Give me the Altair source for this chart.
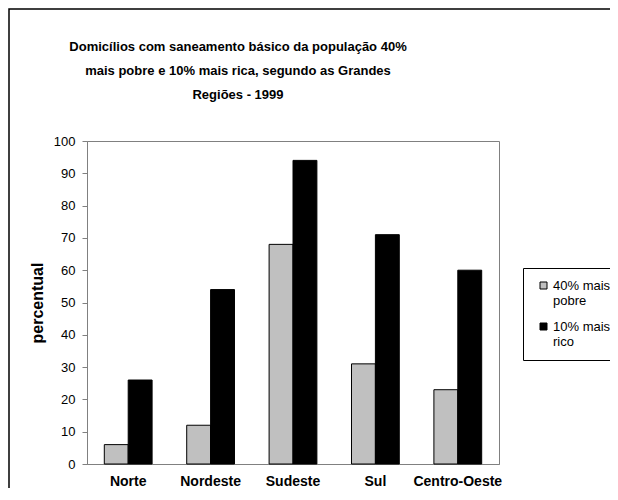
import altair as alt
import pandas as pd

regions = ["Norte", "Nordeste", "Sudeste", "Sul", "Centro-Oeste"]
series = ["40% mais pobre", "10% mais rico"]
pobre = [6, 12, 68, 31, 23]
rico = [26, 54, 94, 71, 60]
title_lines = [
    "Domicílios com saneamento básico da população 40%",
    "mais pobre e 10% mais rica, segundo as Grandes",
    "Regiões - 1999",
]
y_ticks = list(range(0, 101, 10))

rows = []
for r, p, q in zip(regions, pobre, rico):
    rows.append({"regiao": r, "grupo": series[0], "valor": p})
    rows.append({"regiao": r, "grupo": series[1], "valor": q})
df = pd.DataFrame(rows)

W, H = 412, 323
FONT = "Liberation Sans, Arial, sans-serif"

bars = alt.Chart(df).mark_bar(stroke="black", strokeWidth=1).encode(
    x=alt.X(
        "regiao:N",
        sort=regions,
        scale=alt.Scale(paddingInner=0.42, paddingOuter=0.21),
        axis=alt.Axis(
            title=None,
            labelAngle=0,
            ticks=False,
            labelFont=FONT,
            labelFontSize=14,
            labelFontWeight="bold",
            labelColor="black",
            labelPadding=10,
            domainColor="#808080",
        ),
    ),
    xOffset=alt.XOffset("grupo:N", sort=series),
    y=alt.Y(
        "valor:Q",
        scale=alt.Scale(domain=[0, 100], nice=False),
        axis=alt.Axis(
            title="percentual",
            values=y_ticks,
            grid=False,
            tickSize=5,
            tickColor="#808080",
            domainColor="#808080",
            labelFont=FONT,
            labelFontSize=13,
            labelColor="black",
            labelPadding=7,
            titleFont=FONT,
            titleFontSize=16,
            titleFontWeight="bold",
            titleColor="black",
            titlePadding=8,
        ),
    ),
    color=alt.Color(
        "grupo:N",
        sort=series,
        scale=alt.Scale(domain=series, range=["#C0C0C0", "#000000"]),
        legend=alt.Legend(
            title=None,
            orient="none",
            legendX=436,
            legendY=127,
            strokeColor="black",
            padding=11,
            symbolType="square",
            symbolSize=49,
            symbolStrokeColor="black",
            symbolStrokeWidth=1,
            symbolOffset=3,
            labelFont=FONT,
            labelFontSize=13,
            labelColor="black",
            labelLimit=200,
            labelOffset=3,
            rowPadding=12,
            labelExpr="[slice(datum.label, 0, 8), slice(datum.label, 9)]",
        ),
    ),
)

one = alt.Data(values=[{"k": 1}])

frame = alt.Chart(one).mark_rect(fill=None, stroke="black", strokeWidth=1.5).encode(
    x=alt.value(-78), x2=alt.value(W + 200), y=alt.value(-132), y2=alt.value(H + 200)
)

title = alt.Chart(one).mark_text(
    font=FONT,
    fontSize=13,
    fontWeight="bold",
    baseline="top",
    align="center",
    lineHeight=24,
    color="black",
).encode(x=alt.value(151), y=alt.value(-100), text=alt.value(title_lines))

chart = alt.layer(frame, bars, title).properties(
    width=W,
    height=H,
    autosize=alt.AutoSizeParams(type="none"),
    padding={"left": 79, "top": 133, "right": 111, "bottom": 24},
    background="white",
).configure_view(stroke="#808080", strokeWidth=1)

chart.save("out.html", embed_options={"renderer": "svg", "actions": False})
